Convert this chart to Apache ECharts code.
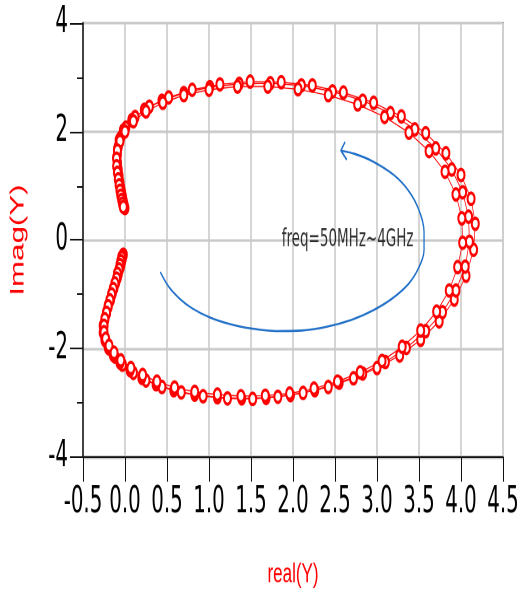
<!DOCTYPE html>
<html>
<head>
<meta charset="utf-8">
<script src="https://cdn.jsdelivr.net/npm/echarts@6/dist/echarts.min.js"></script>
<style>
  html, body { margin: 0; padding: 0; background: #fff; width: 522px; height: 593px; overflow: hidden; }
  #wrap { position: relative; width: 522px; height: 593px; overflow: hidden; }
  /* the plot is drawn at 360px high and stretched to the full 593px window height */
  #chart { position: absolute; left: 0; top: 0; width: 522px; height: 360px; transform: scaleY(1.6472); transform-origin: 0 0; }
</style>
</head>
<body>
<div id="wrap"><div id="chart"></div></div>
<script>
// Admittance sweeps, freq = 50 MHz .. 4 GHz: [real(Y), imag(Y)]
const traceA = [
  [-0.02,-0.27],[-0.03,-0.33],[-0.04,-0.40],[-0.05,-0.47],[-0.07,-0.55],[-0.08,-0.63],[-0.10,-0.72],[-0.12,-0.81],
  [-0.14,-0.91],[-0.16,-1.01],[-0.18,-1.12],[-0.20,-1.23],[-0.22,-1.35],[-0.24,-1.47],[-0.25,-1.59],[-0.25,-1.72],
  [-0.23,-1.86],[-0.19,-2.00],[-0.12,-2.15],[-0.03,-2.30],[0.10,-2.45],[0.25,-2.59],[0.44,-2.71],[0.67,-2.81],
  [0.93,-2.88],[1.22,-2.92],[1.52,-2.93],[1.82,-2.89],[2.12,-2.82],[2.42,-2.71],[2.72,-2.55],[3.00,-2.36],
  [3.27,-2.13],[3.52,-1.84],[3.74,-1.50],[3.92,-1.10],[4.06,-0.66],[4.15,-0.18],[4.17,0.30],[4.12,0.76],
  [4.00,1.20],[3.82,1.60],[3.58,1.97],[3.29,2.28],[2.96,2.53],[2.60,2.72],[2.23,2.85],[1.86,2.91],
  [1.49,2.92],[1.13,2.87],[0.80,2.77],[0.52,2.63],[0.29,2.46],[0.12,2.27],[0.01,2.07],[-0.05,1.89],
  [-0.08,1.72],[-0.09,1.57],[-0.09,1.43],[-0.08,1.30],[-0.07,1.18],[-0.06,1.07],[-0.05,0.97],[-0.04,0.88],
  [-0.03,0.80],[-0.02,0.72],[-0.01,0.65],[0.00,0.59]
];
const traceB = [
  [-0.03,-0.30],[-0.04,-0.37],[-0.05,-0.44],[-0.06,-0.52],[-0.08,-0.60],[-0.09,-0.69],[-0.11,-0.78],[-0.13,-0.88],
  [-0.15,-0.98],[-0.17,-1.09],[-0.20,-1.21],[-0.22,-1.33],[-0.24,-1.45],[-0.26,-1.58],[-0.26,-1.71],[-0.24,-1.84],
  [-0.20,-1.98],[-0.14,-2.12],[-0.06,-2.26],[0.06,-2.40],[0.20,-2.54],[0.37,-2.66],[0.58,-2.77],[0.83,-2.85],
  [1.10,-2.90],[1.39,-2.92],[1.68,-2.91],[1.97,-2.86],[2.26,-2.77],[2.55,-2.63],[2.83,-2.46],[3.10,-2.25],
  [3.35,-1.99],[3.58,-1.68],[3.78,-1.33],[3.94,-0.93],[4.05,-0.49],[4.10,-0.03],[4.09,0.43],[4.02,0.88],
  [3.89,1.30],[3.70,1.69],[3.45,2.04],[3.16,2.34],[2.83,2.57],[2.47,2.74],[2.10,2.85],[1.73,2.89],
  [1.36,2.88],[1.01,2.82],[0.70,2.71],[0.44,2.57],[0.23,2.40],[0.08,2.21],[-0.02,2.02],[-0.07,1.84],
  [-0.09,1.67],[-0.10,1.52],[-0.09,1.39],[-0.08,1.26],[-0.07,1.15],[-0.06,1.04],[-0.05,0.95],[-0.04,0.86],
  [-0.03,0.78],[-0.02,0.70],[-0.01,0.63]
];
const traceC = [
  [-0.04,-0.32],[-0.05,-0.39],[-0.06,-0.46],[-0.07,-0.54],[-0.09,-0.62],[-0.10,-0.71],[-0.12,-0.80],[-0.14,-0.90],
  [-0.16,-1.00],[-0.18,-1.11],[-0.20,-1.22],[-0.22,-1.34],[-0.24,-1.46],[-0.25,-1.58],[-0.25,-1.70],[-0.23,-1.82],
  [-0.19,-1.95],[-0.13,-2.08],[-0.05,-2.22],[0.07,-2.36],[0.21,-2.49],[0.38,-2.61],[0.59,-2.72],[0.83,-2.80],
  [1.10,-2.85],[1.38,-2.88],[1.67,-2.87],[1.96,-2.83],[2.25,-2.74],[2.53,-2.61],[2.80,-2.44],[3.06,-2.23],
  [3.30,-1.97],[3.52,-1.67],[3.71,-1.32],[3.86,-0.93],[3.96,-0.50],[4.02,-0.05],[4.01,0.40],[3.94,0.84],
  [3.81,1.26],[3.62,1.64],[3.38,1.98],[3.09,2.27],[2.77,2.50],[2.42,2.67],[2.06,2.78],[1.70,2.83],
  [1.34,2.83],[1.00,2.77],[0.70,2.67],[0.45,2.53],[0.25,2.37],[0.10,2.19],[0.00,2.00],[-0.06,1.82],
  [-0.09,1.65],[-0.10,1.50],[-0.10,1.36],[-0.09,1.24],[-0.08,1.12],[-0.07,1.01],[-0.06,0.91],[-0.05,0.82],
  [-0.04,0.74],[-0.03,0.67],[-0.02,0.61]
];

// Sweep-direction arrow (data coordinates) and its open arrowhead
const arrowPath = [
  [0.42,-0.59],[0.52,-0.86],[0.65,-1.08],[0.80,-1.26],[1.00,-1.42],[1.25,-1.55],[1.50,-1.63],[1.80,-1.68],
  [2.10,-1.67],[2.40,-1.60],[2.70,-1.47],[2.95,-1.30],[3.18,-1.08],[3.38,-0.80],[3.50,-0.50],[3.56,-0.18],
  [3.56,0.15],[3.50,0.55],[3.38,0.90],[3.20,1.20],[2.95,1.45],[2.75,1.58],[2.57,1.65]
];
const arrowHead = [[2.62,1.81],[2.57,1.65],[2.64,1.48]];
const noteText = 'freq=50MHz~4GHz';
const notePos = [2.65, 0.0];

// Axes
const xMin = -0.5, xMax = 4.5, xStep = 0.5;
const yMin = -4, yMax = 4, yStep = 2;
const xName = 'real(Y)';
const yName = 'Imag(Y)';

const narrow = "'Liberation Sans Narrow', 'Arial Narrow', 'DejaVu Sans Condensed', sans-serif";
const regular = "'Liberation Sans', Arial, sans-serif";

const chart = echarts.init(document.getElementById('chart'), null, { renderer: 'canvas', devicePixelRatio: 2 });

function traceSeries(data) {
  return {
    type: 'line',
    data: data,
    symbol: 'emptyCircle',
    symbolSize: 7,
    lineStyle: { color: '#ff0000', width: 0.7 },
    itemStyle: { color: '#ff0000', borderColor: '#ff0000', borderWidth: 0.7 },
    z: 3
  };
}

chart.setOption({
  animation: false,
  backgroundColor: '#fff',
  grid: {
    left: 83, right: 19, top: 14, bottom: 82.6,
    show: true, borderColor: '#111', borderWidth: 1.1,
    containLabel: false, outerBoundsMode: 'none'
  },
  xAxis: {
    type: 'value', min: xMin, max: xMax, interval: xStep,
    name: xName, nameLocation: 'middle', nameGap: 63,
    nameTextStyle: { color: '#ff0000', fontSize: 17, fontFamily: regular },
    axisLine: { show: true, onZero: false, lineStyle: { color: '#111', width: 1.1 } },
    axisTick: { show: true, length: 15, lineStyle: { color: '#111', width: 1 } },
    axisLabel: {
      margin: 17, fontSize: 22, fontFamily: narrow, color: '#000',
      showMinLabel: true, showMaxLabel: true,
      formatter: v => v.toFixed(1)
    },
    splitLine: { show: true, lineStyle: { color: '#c8c8c8', width: 1.5 } }
  },
  yAxis: {
    type: 'value', min: yMin, max: yMax, interval: yStep,
    name: yName, nameLocation: 'middle', nameGap: 55, nameRotate: 90,
    nameTextStyle: { color: '#ff0000', fontSize: 19, fontFamily: regular },
    axisLine: { show: true, onZero: false, lineStyle: { color: '#111', width: 1.5 } },
    axisTick: { show: true, length: 13, lineStyle: { color: '#111', width: 1 } },
    minorTick: { show: true, splitNumber: 2, length: 6, lineStyle: { color: '#111', width: 1 } },
    axisLabel: {
      margin: 15, fontSize: 22, fontFamily: narrow, color: '#000',
      showMinLabel: true, showMaxLabel: true
    },
    splitLine: { show: true, lineStyle: { color: '#c8c8c8', width: 1.5 } }
  },
  series: [
    traceSeries(traceA),
    traceSeries(traceB),
    traceSeries(traceC),
    {
      type: 'line', data: arrowPath, smooth: 0.35, symbol: 'none',
      lineStyle: { color: '#1f6fc8', width: 1.3 }, z: 4
    },
    {
      type: 'line', data: arrowHead, symbol: 'none',
      lineStyle: { color: '#1f6fc8', width: 1.3 }, z: 4
    },
    {
      type: 'scatter', data: [notePos], symbolSize: 1,
      itemStyle: { color: 'rgba(0,0,0,0)' },
      label: {
        show: true, position: 'inside', formatter: noteText,
        fontSize: 15, fontFamily: narrow, color: '#000'
      },
      z: 5
    }
  ]
});
</script>
</body>
</html>
